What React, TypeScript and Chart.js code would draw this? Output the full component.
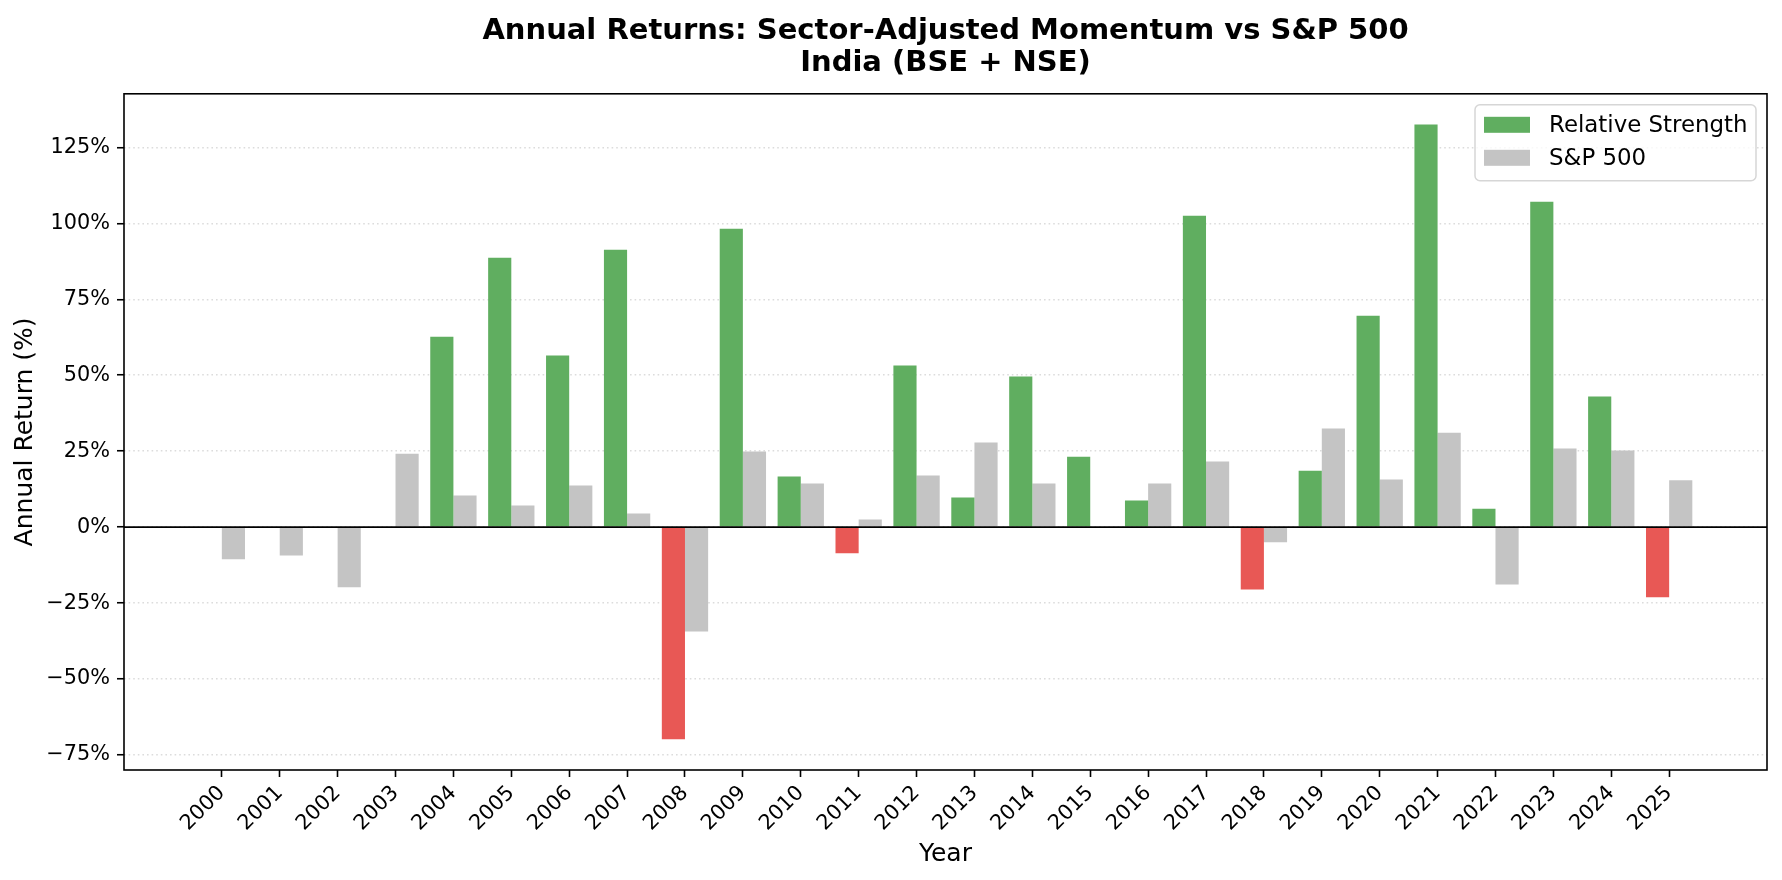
import React, { useEffect, useRef } from 'react';
import { Chart, registerables } from 'chart.js';

Chart.register(...registerables);

const years = [
  '2000', '2001', '2002', '2003', '2004', '2005', '2006', '2007', '2008', '2009',
  '2010', '2011', '2012', '2013', '2014', '2015', '2016', '2017', '2018', '2019',
  '2020', '2021', '2022', '2023', '2024', '2025',
];
const rsReturns = [
  0, 0, 0, 0, 62.7, 88.7, 56.5, 91.3, -69.8, 98.2,
  16.7, -8.6, 53.2, 9.8, 49.6, 23.2, 8.8, 102.5, -20.5, 18.6,
  69.6, 132.5, 6.1, 107.1, 43.0, -23.1,
];
const spReturns = [
  -10.6, -9.3, -19.8, 24.2, 10.4, 7.1, 13.7, 4.5, -34.3, 24.9,
  14.4, 2.5, 17.0, 27.9, 14.4, 0, 14.4, 21.6, -5.0, 32.5,
  15.7, 31.1, -18.9, 25.9, 25.2, 15.4,
];
const yTickValues = [-75, -50, -25, 0, 25, 50, 75, 100, 125];
const titleLines = ['Annual Returns: Sector-Adjusted Momentum vs S&P 500', 'India (BSE + NSE)'];
const seriesNames = ['Relative Strength', 'S&P 500'];

const GREEN = '#60ae60';
const RED = '#e85855';
const GRAY = '#c4c4c4';
const FONT = "'DejaVu Sans', 'Liberation Sans', sans-serif";

export default function App() {
  const ref = useRef<HTMLCanvasElement>(null);

  useEffect(() => {
    document.body.style.margin = '0';
    const allVals = [...rsReturns, ...spReturns];
    const lo = Math.min(0, ...allVals);
    const hi = Math.max(0, ...allVals);
    const ym = (hi - lo) * 0.05;
    const xlo = -0.4;
    const xhi = years.length - 1 + 0.4;
    const xm = (xhi - xlo) * 0.05;

    const decor = {
      id: 'decor',
      afterDatasetsDraw(chart: any) {
        const { ctx, chartArea } = chart;
        const y0 = chart.scales.y.getPixelForValue(0);
        ctx.save();
        ctx.strokeStyle = '#000';
        ctx.lineWidth = 1.6;
        ctx.beginPath();
        ctx.moveTo(chartArea.left, y0);
        ctx.lineTo(chartArea.right, y0);
        ctx.stroke();
        ctx.restore();
      },
      afterDraw(chart: any) {
        const { ctx, chartArea } = chart;
        ctx.save();
        // legend
        const w = 281;
        const h = 76;
        const bx = chartArea.right - 11 - w;
        const by = chartArea.top + 11;
        ctx.beginPath();
        (ctx as any).roundRect(bx, by, w, h, 5);
        ctx.fillStyle = 'rgba(255,255,255,0.8)';
        ctx.fill();
        ctx.strokeStyle = '#d6d6d6';
        ctx.lineWidth = 1.5;
        ctx.stroke();
        const colors = [GREEN, GRAY];
        const rowY = [by + 20, by + 53];
        ctx.font = `22.9px ${FONT}`;
        ctx.textBaseline = 'middle';
        ctx.textAlign = 'left';
        for (let i = 0; i < 2; i++) {
          ctx.fillStyle = colors[i];
          ctx.fillRect(bx + 9, rowY[i] - 8, 46, 16);
          ctx.fillStyle = '#000';
          ctx.fillText(seriesNames[i], bx + 74, rowY[i] + 1);
        }
        // frame
        ctx.strokeStyle = '#000';
        ctx.lineWidth = 1.6;
        ctx.strokeRect(chartArea.left, chartArea.top, chartArea.right - chartArea.left, chartArea.bottom - chartArea.top);
        ctx.restore();
      },
    };

    const chart = new Chart(ref.current!, {
      type: 'bar',
      data: {
        datasets: [
          {
            label: seriesNames[0],
            data: rsReturns.map((v, i) => ({ x: i, y: v })),
            backgroundColor: rsReturns.map((v) => (v < 0 ? RED : GREEN)),
            borderWidth: 0,
            categoryPercentage: 0.8,
            barPercentage: 1.0,
          },
          {
            label: seriesNames[1],
            data: spReturns.map((v, i) => ({ x: i, y: v })),
            backgroundColor: GRAY,
            borderWidth: 0,
            categoryPercentage: 0.8,
            barPercentage: 1.0,
          },
        ],
      },
      options: {
        animation: false,
        responsive: false,
        devicePixelRatio: 1,
        layout: { padding: { left: 0, right: 15, top: 0, bottom: 0 } },
        plugins: {
          legend: { display: false },
          tooltip: { enabled: false },
          title: {
            display: true,
            fullSize: false,
            text: titleLines,
            color: '#000',
            font: { family: FONT, size: 29, weight: 'bold', lineHeight: 1.1 },
            padding: { top: 15.5, bottom: 14.5 },
          },
        },
        scales: {
          x: {
            type: 'linear',
            min: xlo - xm,
            max: xhi + xm,
            offset: false,
            grid: {
              offset: false,
              drawOnChartArea: false,
              color: 'rgba(0,0,0,0)',
              tickColor: '#000',
              tickWidth: 1.6,
              tickLength: 7,
            },
            border: { display: false },
            afterBuildTicks: (scale: any) => {
              scale.ticks = years.map((_, i) => ({ value: i }));
            },
            afterFit: (scale: any) => {
              scale.height = 110;
            },
            ticks: {
              autoSkip: false,
              minRotation: 45,
              maxRotation: 45,
              padding: 4,
              color: '#000',
              font: { family: FONT, size: 20.8 },
              callback: (v: any) => years[Math.round(Number(v))] ?? '',
            },
            title: {
              display: true,
              text: 'Year',
              color: '#000',
              font: { family: FONT, size: 25 },
              padding: { top: 0, bottom: 10.5 },
            },
          },
          y: {
            type: 'linear',
            min: lo - ym,
            max: hi + ym,
            grid: {
              color: '#dcdcdc',
              lineWidth: 1.5,
              tickColor: '#000',
              tickWidth: 1.6,
              tickLength: 7,
              tickBorderDash: [],
            },
            border: { display: false, dash: [1.6, 3] },
            afterBuildTicks: (scale: any) => {
              scale.ticks = yTickValues.map((v) => ({ value: v }));
            },
            afterFit: (scale: any) => {
              scale.width = 124;
            },
            ticks: {
              padding: 7,
              color: '#000',
              font: { family: FONT, size: 20.8 },
              callback: (v: any) => {
                const n = Number(v);
                return (n < 0 ? '\u2212' + Math.abs(n) : String(n)) + '%';
              },
            },
            title: {
              display: true,
              text: 'Annual Return (%)',
              color: '#000',
              font: { family: FONT, size: 25 },
              padding: { top: 10, bottom: 0 },
            },
          },
        },
      },
      plugins: [decor],
    } as any);

    return () => chart.destroy();
  }, []);

  return (
    <div style={{ width: 1782, height: 880 }}>
      <canvas ref={ref} width={1782} height={880} style={{ display: 'block' }} />
    </div>
  );
}
